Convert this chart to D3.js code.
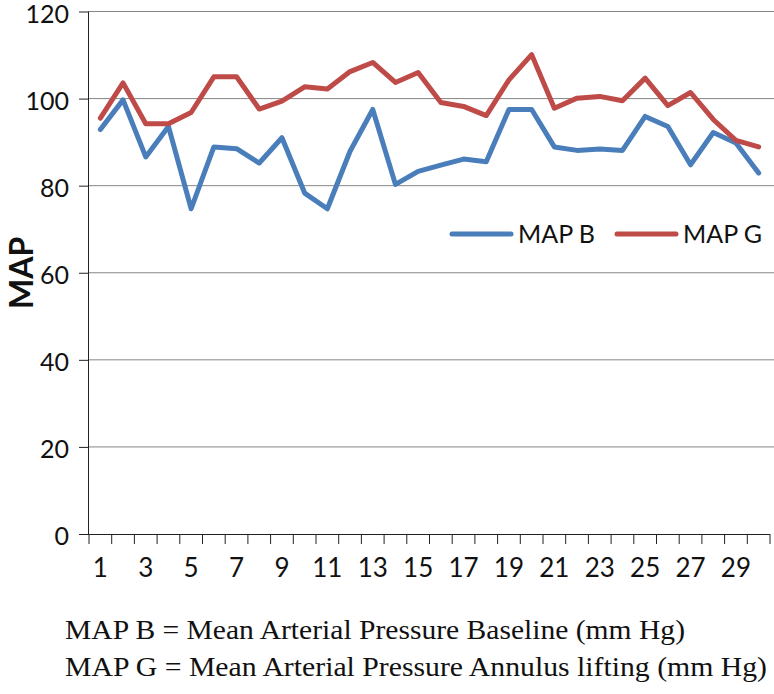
<!DOCTYPE html>
<html><head><meta charset="utf-8">
<script src="https://cdn.jsdelivr.net/npm/d3@7"></script>
<style>body{margin:0;background:#fff}svg{display:block}</style>
</head><body>
<svg id="c" width="774" height="694"></svg>
<script>
const categories = d3.range(1, 31);
const mapB = [92.9, 99.7, 86.6, 93.6, 74.7, 88.9, 88.5, 85.2, 91.0, 78.3,
              74.7, 87.9, 97.5, 80.3, 83.3, 84.7, 86.1, 85.5, 97.5, 97.5,
              88.9, 88.1, 88.4, 88.1, 95.9, 93.6, 84.8, 92.2, 89.8, 82.9];
const mapG = [95.5, 103.6, 94.2, 94.2, 96.8, 105.0, 105.0, 97.6, 99.4, 102.7,
              102.2, 106.2, 108.3, 103.7, 106.0, 99.1, 98.2, 96.1, 104.3, 110.1,
              97.8, 100.1, 100.5, 99.5, 104.7, 98.4, 101.4, 95.2, 90.4, 88.9];
const yTicks = [0, 20, 40, 60, 80, 100, 120];
const xTickLabels = categories.filter(d => d % 2 === 1);
const seriesNames = ["MAP B", "MAP G"];
const seriesColors = ["#4a7ebb", "#be4b48"];
const footnotes = ["MAP B = Mean Arterial Pressure Baseline (mm Hg)",
                   "MAP G = Mean Arterial Pressure Annulus lifting (mm Hg)"];

const svg = d3.select("#c");
const L = 89, R = 770, T = 11.5, B = 534;
const x = d3.scaleBand().domain(categories).range([L, R]);
const y = d3.scaleLinear().domain([0, 120]).range([B, T]);
const font = "Lato, 'Open Sans', sans-serif";

// gridlines
svg.append("g").selectAll("line").data(yTicks.filter(d => d > 0)).join("line")
  .attr("x1", L).attr("x2", 774)
  .attr("y1", d => y(d)).attr("y2", d => y(d))
  .attr("stroke", "#868686").attr("stroke-width", 1);

// y axis
const ya = svg.append("g").attr("transform", `translate(${L},0)`)
  .call(d3.axisLeft(y).tickValues(yTicks).tickSize(10).tickPadding(10));
ya.select(".domain").attr("stroke", "#222").attr("d", `M-0.5,${T}V${B}`);
ya.selectAll(".tick line").attr("stroke", "#222");
ya.selectAll("text").attr("font-family", font).attr("font-size", 25).attr("fill", "#111")
  .attr("dy", "0.42em");

// x axis
const xa = svg.append("g").attr("transform", `translate(0,${B})`)
  .call(d3.axisBottom(x).tickSize(0).tickPadding(25)
        .tickFormat(d => xTickLabels.includes(d) ? d : ""));
xa.select(".domain").attr("stroke", "#222").attr("d", `M${L},0.5H${R}`);
xa.selectAll("text").attr("font-family", font).attr("font-size", 26).attr("fill", "#111")
  .attr("dy", "0.71em");
// tick marks at band boundaries
const bounds = categories.map(d => x(d)).concat([x(30) + x.bandwidth()]);
svg.append("g").selectAll("line").data(bounds).join("line")
  .attr("x1", d => d).attr("x2", d => d)
  .attr("y1", B).attr("y2", B + 10)
  .attr("stroke", "#222").attr("stroke-width", 1);

// y title
svg.append("text")
  .attr("transform", `translate(33,${(T + B) / 2}) rotate(-90)`)
  .attr("text-anchor", "middle")
  .attr("font-family", font).attr("font-weight", "bold").attr("font-size", 32)
  .attr("fill", "#111").text("MAP");

// lines
const line = d3.line().x((d, i) => x(categories[i]) + x.bandwidth() / 2).y(d => y(d));
[mapB, mapG].forEach((s, k) => {
  svg.append("path").datum(s).attr("d", line)
    .attr("fill", "none").attr("stroke", seriesColors[k])
    .attr("stroke-width", 5).attr("stroke-linejoin", "round").attr("stroke-linecap", "round");
});

// legend
const legX = [452, 617];
seriesNames.forEach((n, k) => {
  svg.append("line").attr("x1", legX[k]).attr("x2", legX[k] + 59)
    .attr("y1", 234).attr("y2", 234)
    .attr("stroke", seriesColors[k]).attr("stroke-width", 5).attr("stroke-linecap", "round");
  svg.append("text").attr("x", legX[k] + 66).attr("y", 243)
    .attr("font-family", font).attr("font-size", 25).attr("fill", "#111").text(n);
});

// footnotes
const fy = [639, 676], fw = [620, 702];
footnotes.forEach((t, k) => {
  svg.append("text").attr("x", 65).attr("y", fy[k])
    .attr("font-family", "'Liberation Serif', 'Times New Roman', serif")
    .attr("font-size", 27).attr("fill", "#111")
    .attr("textLength", fw[k]).attr("lengthAdjust", "spacingAndGlyphs")
    .text(t);
});
</script>
</body></html>
